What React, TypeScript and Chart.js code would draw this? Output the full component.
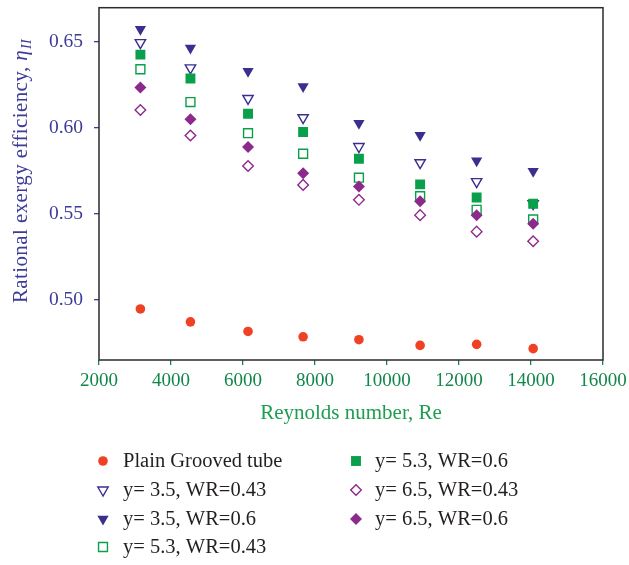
import { useEffect, useRef } from 'react';
import { Chart, registerables } from 'chart.js';
import { drawPoint } from 'chart.js/helpers';
Chart.register(...registerables);

const reynolds = [3150, 4540, 6140, 7670, 9220, 10920, 12490, 14060];
const plainGrooved = [0.4947, 0.4872, 0.4816, 0.4785, 0.4768, 0.4735, 0.4741, 0.4716];
const y35wr043 = [0.6497, 0.635, 0.6172, 0.606, 0.5892, 0.5798, 0.5688, 0.556];
const y35wr06 = [0.6575, 0.6465, 0.633, 0.6242, 0.6028, 0.5958, 0.581, 0.5748];
const y53wr043 = [0.6342, 0.6151, 0.597, 0.585, 0.5711, 0.5603, 0.5524, 0.5468];
const y53wr06 = [0.6427, 0.6288, 0.6083, 0.5977, 0.5821, 0.5672, 0.5596, 0.5559];
const y65wr043 = [0.6105, 0.5956, 0.5779, 0.5669, 0.5582, 0.5493, 0.5397, 0.5341];
const y65wr06 = [0.6236, 0.6051, 0.589, 0.5736, 0.5659, 0.5574, 0.5493, 0.5443];

const xTicks = [2000, 4000, 6000, 8000, 10000, 12000, 14000, 16000];
const yTicks = [0.5, 0.55, 0.6, 0.65];
const xTitle = 'Reynolds number, Re';
const yTitleMain = 'Rational exergy efficiency, ';
const yTitleSym = 'η';
const yTitleSub = 'II';

const INDIGO = '#3a2f8e';
const GREEN = '#0a9f4a';
const PURPLE = '#8c2a8c';
const RED = '#ef4123';
const Y_TEXT = '#3d3b98';
const X_TEXT = '#11874a';
const X_TITLE = '#1c9e50';
const SERIF = '"Liberation Serif", "DejaVu Serif", serif';

const legendCols = [[0, 1, 2, 3], [4, 5, 6]];

export default function App() {
  const ref = useRef<HTMLCanvasElement | null>(null);
  useEffect(() => {
    document.body.style.margin = '0';
    const mk = (data: number[]) => data.map((v, i) => ({ x: reynolds[i], y: v }));
    const ds = (label: string, data: number[], color: string, style: string, filled: boolean, radius: number, rotation = 0) => ({
      label,
      data: mk(data),
      pointStyle: style,
      rotation,
      pointRadius: radius,
      pointHoverRadius: radius,
      borderWidth: filled ? 0 : 1.4,
      pointBorderWidth: filled ? 0 : 1.4,
      borderColor: color,
      backgroundColor: filled ? color : '#ffffff',
      pointBackgroundColor: filled ? color : '#ffffff',
      pointBorderColor: color,
      showLine: false,
    });
    const datasets: any[] = [
      ds('Plain Grooved tube', plainGrooved, RED, 'circle', true, 4.8),
      ds('y= 3.5, WR=0.43', y35wr043, INDIGO, 'triangle', false, 6, 180),
      ds('y= 3.5, WR=0.6', y35wr06, INDIGO, 'triangle', true, 6.5, 180),
      ds('y= 5.3, WR=0.43', y53wr043, GREEN, 'rect', false, 6.3),
      ds('y= 5.3, WR=0.6', y53wr06, GREEN, 'rect', true, 7),
      ds('y= 6.5, WR=0.43', y65wr043, PURPLE, 'rectRot', false, 5.3),
      ds('y= 6.5, WR=0.6', y65wr06, PURPLE, 'rectRot', true, 6),
    ];
    datasets.forEach((d, i) => { d.order = 10 - i; });

    const framePlugin = {
      id: 'frame',
      afterDatasetsDraw(chart: any) {
        const { ctx, chartArea: a } = chart;
        ctx.save();
        ctx.strokeStyle = '#2b2b2b';
        ctx.lineWidth = 1.5;
        ctx.strokeRect(a.left, a.top, a.right - a.left, a.bottom - a.top);
        ctx.restore();
      },
    };

    const titlePlugin = {
      id: 'titles',
      afterDraw(chart: any) {
        const { ctx, chartArea: a } = chart;
        ctx.save();
        ctx.fillStyle = X_TITLE;
        ctx.font = `21px ${SERIF}`;
        ctx.textAlign = 'center';
        ctx.textBaseline = 'middle';
        ctx.fillText(xTitle, (a.left + a.right) / 2, 413);
        ctx.translate(20, 171);
        ctx.rotate(-Math.PI / 2);
        ctx.fillStyle = Y_TEXT;
        ctx.textBaseline = 'alphabetic';
        ctx.textAlign = 'left';
        const c: any = ctx;
        c.letterSpacing = '0.4px';
        const f1 = `21px ${SERIF}`;
        const f2 = `italic 21px ${SERIF}`;
        const f3 = `italic 14px ${SERIF}`;
        ctx.font = f1; const w1 = ctx.measureText(yTitleMain).width;
        ctx.font = f2; const w2 = ctx.measureText(yTitleSym).width;
        ctx.font = f3; const w3 = ctx.measureText(yTitleSub).width;
        let x = -(w1 + w2 + w3 + 1) / 2;
        const base = 7;
        ctx.font = f1; ctx.fillText(yTitleMain, x, base); x += w1;
        ctx.font = f2; ctx.fillText(yTitleSym, x, base); x += w2 + 1;
        ctx.font = f3; ctx.fillText(yTitleSub, x, base + 4);
        ctx.restore();
      },
    };

    const legendPlugin = {
      id: 'customLegend',
      afterDraw(chart: any) {
        const { ctx } = chart;
        const colMarkerX = [103, 356];
        const colTextX = [123, 375];
        const rowY = [461, 490, 519, 547];
        ctx.save();
        ctx.font = `20.5px ${SERIF}`;
        ctx.textBaseline = 'middle';
        ctx.textAlign = 'left';
        legendCols.forEach((col, c) => {
          col.forEach((di, r) => {
            const d = chart.data.datasets[di];
            ctx.fillStyle = d.pointBackgroundColor;
            ctx.strokeStyle = d.pointBorderColor;
            ctx.lineWidth = d.pointBorderWidth || 0;
            drawPoint(ctx, { pointStyle: d.pointStyle, rotation: d.rotation, radius: d.pointRadius, borderWidth: d.pointBorderWidth }, colMarkerX[c], rowY[r]);
            ctx.fillStyle = '#231f20';
            ctx.fillText(d.label, colTextX[c], rowY[r] + 1);
          });
        });
        ctx.restore();
      },
    };

    const chart = new Chart(ref.current as HTMLCanvasElement, {
      type: 'scatter',
      data: { datasets },
      options: {
        animation: false,
        responsive: false,
        maintainAspectRatio: false,
        layout: { padding: { left: 0, right: 26, top: 5, bottom: 0 } },
        plugins: { legend: { display: false }, tooltip: { enabled: false } },
        scales: {
          x: {
            type: 'linear',
            min: 2000,
            max: 16000,
            afterBuildTicks: (s: any) => { s.ticks = xTicks.map((v) => ({ value: v })); },
            afterFit: (s: any) => { s.height = 205; s.paddingLeft = 0; s.paddingRight = 0; },
            border: { display: false },
            grid: { display: true, drawOnChartArea: false, drawTicks: true, tickLength: 5, color: X_TEXT, lineWidth: 1.3 },
            ticks: { color: X_TEXT, font: { family: SERIF, size: 19 }, padding: 5, maxRotation: 0, autoSkip: false, callback: (v: any) => String(v) },
          },
          y: {
            type: 'linear',
            min: 0.465,
            max: 0.67,
            afterBuildTicks: (s: any) => { s.ticks = yTicks.map((v) => ({ value: v })); },
            afterFit: (s: any) => { s.width = 99; s.paddingTop = 0; s.paddingBottom = 0; },
            border: { display: false },
            grid: { display: true, drawOnChartArea: false, drawTicks: true, tickLength: 5, color: Y_TEXT, lineWidth: 1.3 },
            ticks: { color: Y_TEXT, font: { family: SERIF, size: 19.5 }, padding: 11, callback: (v: any) => Number(v).toFixed(2) },
          },
        },
      },
      plugins: [framePlugin, titlePlugin, legendPlugin],
    });
    return () => chart.destroy();
  }, []);
  return (
    <div style={{ position: 'absolute', left: 0, top: 0, width: 629, height: 565, background: '#fff' }}>
      <canvas ref={ref} width={629} height={565} style={{ width: 629, height: 565, display: 'block' }} />
    </div>
  );
}
